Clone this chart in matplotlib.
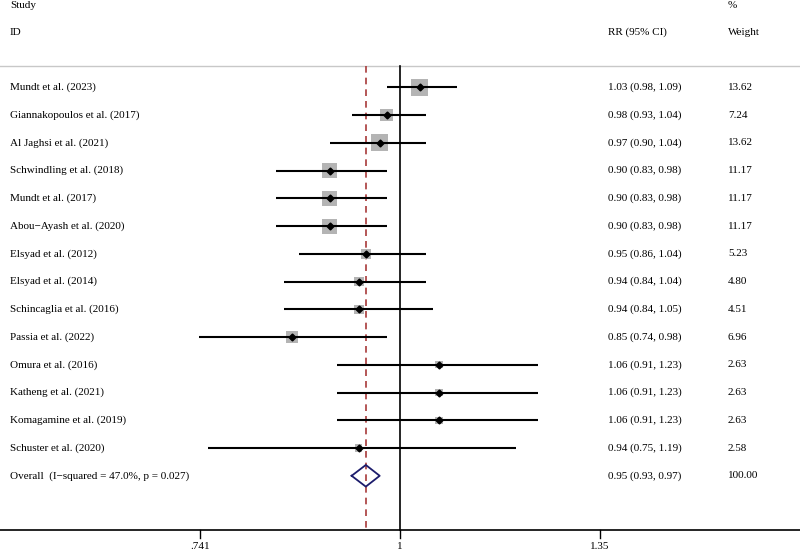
import numpy as np
import matplotlib
matplotlib.use("Agg")
import matplotlib.pyplot as plt

plt.rcParams['font.family'] = ['Liberation Serif', 'DejaVu Serif']

# data
studies = ["Mundt et al. (2023)", "Giannakopoulos et al. (2017)", "Al Jaghsi et al. (2021)",
           "Schwindling et al. (2018)", "Mundt et al. (2017)", "Abou\u2212Ayash et al. (2020)",
           "Elsyad et al. (2012)", "Elsyad et al. (2014)", "Schincaglia et al. (2016)",
           "Passia et al. (2022)", "Omura et al. (2016)", "Katheng et al. (2021)",
           "Komagamine et al. (2019)", "Schuster et al. (2020)"]
rr = np.array([1.03, 0.98, 0.97, 0.90, 0.90, 0.90, 0.95, 0.94, 0.94, 0.85, 1.06, 1.06, 1.06, 0.94])
lo = np.array([0.98, 0.93, 0.90, 0.83, 0.83, 0.83, 0.86, 0.84, 0.84, 0.74, 0.91, 0.91, 0.91, 0.75])
hi = np.array([1.09, 1.04, 1.04, 0.98, 0.98, 0.98, 1.04, 1.04, 1.05, 0.98, 1.23, 1.23, 1.23, 1.19])
weight = np.array([13.62, 7.24, 13.62, 11.17, 11.17, 11.17, 5.23, 4.80, 4.51, 6.96, 2.63, 2.63, 2.63, 2.58])

overall_label = "Overall  (I\u2212squared = 47.0%, p = 0.027)"
overall = (0.95, 0.93, 0.97)
overall_w = 100.00
xticks = [0.741, 1, 1.35]
xticklabels = [".741", "1", "1.35"]

fs = 8
fig = plt.figure(figsize=(8, 5.52), dpi=100)
ax = fig.add_axes([0, 0, 1, 1])
ax.set_xscale('log')
ax.set_xlim(np.exp(-0.6), np.exp(0.6))
ax.set_ylim(17.746, -2.146)
ax.axis('off')

n = len(studies)
rows = np.arange(1, n + 1)
y_top = 0.232
y_bot = 16.95

# header lines
ax.axhline(y_top, color='#c8c8c8', lw=1.0, zorder=1)
ax.axhline(y_bot, color='black', lw=1.2, zorder=1)
ax.plot([1, 1], [y_top, y_bot], color='black', lw=1.2, zorder=2)
ax.plot([overall[0], overall[0]], [y_top, y_bot], color='#a83a3a', lw=1.2,
        ls=(0, (4, 3)), zorder=3)

# ticks
for t, lab in zip(xticks, xticklabels):
    ax.plot([t, t], [y_bot, y_bot + 0.3], color='black', lw=1.0)
    ax.text(t, y_bot + 0.6, lab, ha='center', va='center', fontsize=fs)

# study boxes, CIs, points
ax.scatter(rr, rows, s=144 * weight / weight.max(), marker='s', color='#b4b4b4',
           edgecolors='none', zorder=4)
ax.hlines(rows, lo, hi, color='black', lw=1.5, zorder=5)
ax.plot(rr, rows, 'D', color='black', ms=3.5, zorder=6)

# overall diamond
r_ov = n + 1
dx = [overall[1], overall[0], overall[2], overall[0], overall[1]]
dy = [r_ov, r_ov - 0.39, r_ov, r_ov + 0.39, r_ov]
ax.plot(dx, dy, color='#1c1c6c', lw=1.3, zorder=6)

# text columns (x in figure fraction, y in row units)
xs_name = 10 / 800
xs_rr = 608 / 800
xs_w = 728 / 800
tr = matplotlib.transforms.blended_transform_factory(fig.transFigure, ax.transData)

ax.text(xs_name, -1.96, "Study", transform=tr, va='center', fontsize=fs)
ax.text(xs_name, -0.98, "ID", transform=tr, va='center', fontsize=fs)
ax.text(xs_rr, -0.98, "RR (95% CI)", transform=tr, va='center', fontsize=fs)
ax.text(xs_w, -1.96, "%", transform=tr, va='center', fontsize=fs)
ax.text(xs_w, -0.98, "Weight", transform=tr, va='center', fontsize=fs)

for i in range(n):
    ax.text(xs_name, rows[i], studies[i], transform=tr, va='center', fontsize=fs)
    ax.text(xs_rr, rows[i], f"{rr[i]:.2f} ({lo[i]:.2f}, {hi[i]:.2f})", transform=tr,
            va='center', fontsize=fs)
    ax.text(xs_w, rows[i], f"{weight[i]:.2f}", transform=tr, va='center', fontsize=fs)

ax.text(xs_name, r_ov, overall_label, transform=tr, va='center', fontsize=fs)
ax.text(xs_rr, r_ov, f"{overall[0]:.2f} ({overall[1]:.2f}, {overall[2]:.2f})", transform=tr,
        va='center', fontsize=fs)
ax.text(xs_w, r_ov, f"{overall_w:.2f}", transform=tr, va='center', fontsize=fs)

fig.savefig("out.png", dpi=100)
